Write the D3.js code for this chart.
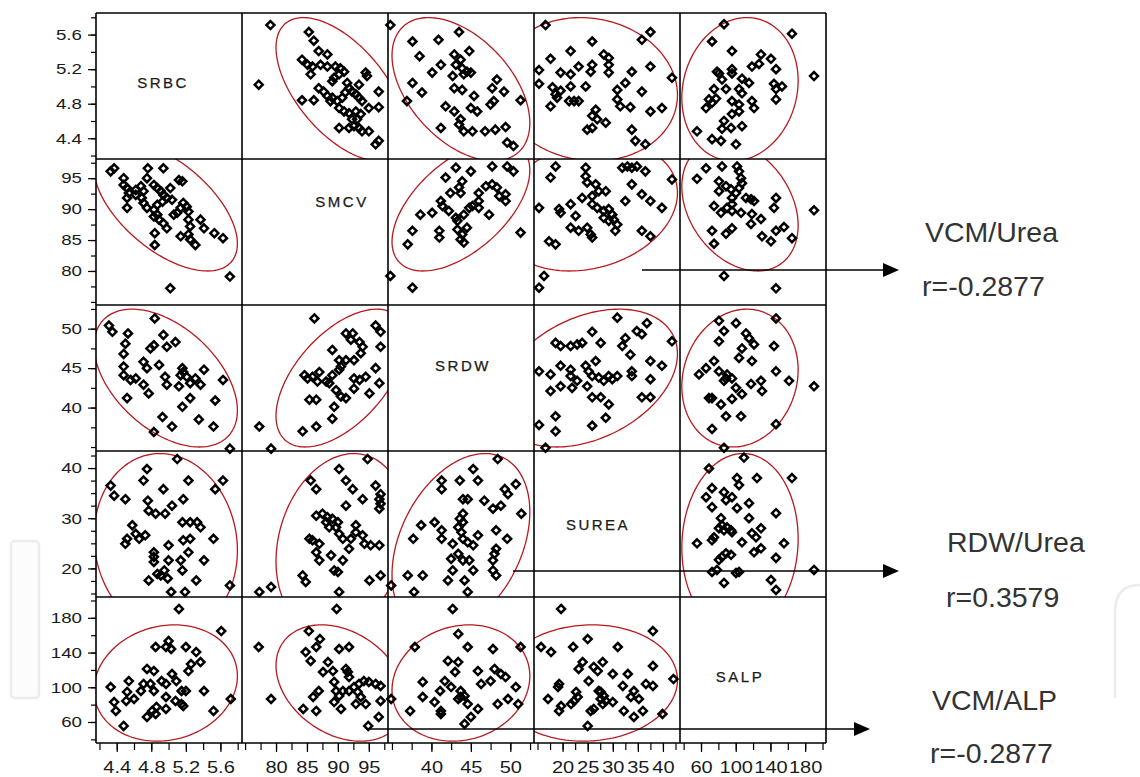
<!DOCTYPE html>
<html><head><meta charset="utf-8">
<script src="https://cdn.jsdelivr.net/npm/d3@7"></script>
<style>body{margin:0;background:#fff}svg{display:block}</style>
</head><body>
<svg id="chart" width="1140" height="777"></svg>
<script>
// ---------- DATA ----------
const variables = ["SRBC","SMCV","SRDW","SUREA","SALP"];
const axisDomains = [[4.16,5.85],[74.5,98.1],[34.5,53.0],[14.3,43.4],[35.8,204]];
const yTickLabels = [[4.4,4.8,5.2,5.6],[80,85,90,95],[40,45,50],[20,30,40],[60,100,140,180]];
const xTickLabels = [[4.4,4.8,5.2,5.6],[80,85,90,95],[40,45,50],[20,25,30,35,40],[60,100,140,180]];
const minorTicks = [
  [4.2,4.4,4.6,4.8,5.0,5.2,5.4,5.6,5.8],
  [75,77.5,80,82.5,85,87.5,90,92.5,95,97.5],
  [35,37.5,40,42.5,45,47.5,50,52.5],
  [15,17.5,20,22.5,25,27.5,30,32.5,35,37.5,40,42.5],
  [40,60,80,100,120,140,160,180,200]
];
const ellipseMean = [4.967, 90.5, 43.74, 25.0, 104.9];
const ellipseSD = [0.339, 4.29, 3.567, 7.31, 27.37];
const ellipseK = 2.4477;
const correlations = [
  [1, -0.58, -0.47, -0.08, 0.12],
  [-0.58, 1, 0.55, 0.20, -0.30],
  [-0.47, 0.55, 1, 0.35, 0.12],
  [-0.08, 0.20, 0.35, 1, 0.05],
  [0.12, -0.30, 0.12, 0.05, 1]
];

// [SMCV, SRBC]
const smcvSrbc = [[79.1,5.71],[77.2,5.02],[85.3,5.63],[86.1,5.53],[86.9,5.41],[88.3,5.37],[84.2,5.31],[85.1,5.25],[85.9,5.23],[87.2,5.25],[88.3,5.23],[89.6,5.23],[90.4,5.21],[91.0,5.17],[90.2,5.14],[89.4,5.10],[85.6,5.14],[89.1,5.06],[91.5,5.04],[91.8,4.98],[93.4,5.02],[94.5,5.16],[94.7,5.12],[96.6,4.94],[86.9,4.98],[87.7,4.94],[88.3,4.89],[89.1,4.87],[88.8,4.83],[89.9,4.83],[90.7,4.87],[91.2,4.93],[92.3,4.94],[92.9,4.91],[93.4,4.87],[93.9,4.83],[84.2,4.84],[86.1,4.84],[90.2,4.75],[91.0,4.71],[91.8,4.69],[92.9,4.71],[93.7,4.68],[95.0,4.75],[96.6,4.76],[92.3,4.62],[93.1,4.62],[92.6,4.54],[93.4,4.52],[93.9,4.48],[95.0,4.48],[90.2,4.52],[91.8,4.52],[96.1,4.33],[96.6,4.37]];
// [SRDW, SRBC]
const srdwSrbc = [[34.8,5.71],[37.6,5.52],[40.9,5.54],[43.5,5.63],[38.5,5.35],[44.8,5.41],[42.9,5.37],[43.7,5.31],[40.1,5.16],[41.2,5.25],[43.1,5.25],[43.9,5.21],[44.5,5.17],[44.1,5.14],[45.0,5.16],[42.7,5.12],[37.6,5.04],[38.8,4.93],[43.9,4.96],[42.9,4.98],[45.4,4.89],[48.3,5.08],[47.7,4.98],[49.2,4.94],[47.5,4.79],[47.9,4.83],[41.8,4.77],[42.9,4.71],[45.0,4.75],[45.8,4.71],[36.9,4.83],[43.7,4.62],[43.5,4.56],[41.2,4.52],[44.1,4.48],[45.2,4.48],[46.8,4.48],[48.1,4.50],[49.4,4.53],[51.3,4.84],[49.6,4.35],[50.4,4.31]];
// [SUREA, SRBC]
const ureaSrbc = [[16.6,5.71],[37.5,5.63],[35.8,5.54],[25.9,5.52],[21.6,5.41],[28.2,5.37],[29.2,5.33],[17.6,5.32],[23.2,5.23],[25.9,5.25],[29.2,5.25],[37.5,5.23],[25.6,5.17],[29.2,5.16],[33.8,5.17],[41.8,5.10],[15.3,5.19],[19.6,5.16],[21.6,5.14],[15.3,5.03],[18.0,4.99],[21.6,5.00],[24.6,5.00],[19.6,4.95],[18.6,4.91],[18.9,4.87],[17.6,4.77],[21.3,4.83],[22.3,4.83],[23.2,4.83],[30.9,4.96],[32.5,5.04],[35.8,4.94],[30.9,4.85],[31.5,4.77],[33.5,4.76],[39.8,4.75],[37.5,4.71],[26.6,4.73],[25.9,4.66],[26.9,4.62],[28.6,4.58],[24.9,4.50],[25.9,4.52],[33.8,4.50],[34.5,4.37],[36.5,4.33]];
// [SALP, SRBC]
const alpSrbc = [[86.5,5.72],[72.7,5.52],[164.8,5.61],[95.7,5.41],[129.1,5.37],[140.6,5.32],[78.4,5.17],[95.7,5.20],[95.7,5.15],[118.7,5.23],[126.8,5.26],[146.4,5.20],[107.2,5.09],[115.3,5.04],[84.2,5.08],[190.2,5.12],[75.0,4.97],[88.8,4.97],[103.8,4.97],[107.2,4.92],[144.1,5.03],[146.4,4.97],[153.3,5.00],[69.2,4.85],[77.3,4.86],[95.7,4.83],[103.8,4.79],[118.7,4.83],[121.1,4.75],[146.4,4.85],[65.8,4.75],[103.8,4.71],[86.5,4.60],[84.2,4.51],[94.6,4.52],[107.2,4.54],[83.0,4.37],[100.3,4.33],[55.4,4.48],[72.7,4.39],[80.7,5.15],[72.7,4.81],[95.7,4.68]];
// [SRDW, SMCV]
const srdwSmcv = [[43.1,96.7],[47.7,96.9],[49.6,96.9],[50.4,96.1],[41.8,95.1],[43.9,94.5],[45.0,96.1],[43.5,93.5],[43.7,92.6],[46.0,92.6],[46.9,93.7],[47.7,94.0],[48.3,93.5],[48.6,92.1],[49.4,92.4],[49.4,91.3],[41.2,91.3],[41.4,90.5],[40.1,89.4],[38.6,89.1],[42.2,89.7],[43.1,88.6],[43.3,88.1],[44.1,89.1],[44.8,90.2],[45.2,90.5],[46.0,90.2],[47.3,89.1],[41.0,86.5],[41.0,85.4],[43.3,86.7],[43.9,85.9],[44.5,87.0],[43.7,85.1],[44.1,84.6],[37.6,86.5],[37.0,84.3],[51.3,86.2],[34.8,79.2],[37.6,77.3],[42.4,92.6],[46.0,91.3]];
// [SUREA, SMCV]
const ureaSmcv = [[18.6,96.9],[17.6,95.1],[15.3,90.2],[19.3,90.0],[19.6,89.4],[21.6,90.8],[22.6,88.9],[24.6,96.7],[24.6,95.3],[24.9,94.3],[26.6,94.0],[27.2,92.9],[28.6,92.9],[25.9,92.1],[23.9,91.8],[25.9,90.8],[26.9,90.2],[28.2,89.7],[29.2,90.0],[29.9,89.1],[28.2,88.6],[29.2,88.1],[30.2,88.3],[30.9,87.5],[31.9,96.7],[32.9,96.9],[33.8,96.7],[34.8,96.9],[36.5,96.1],[33.8,94.0],[35.8,92.4],[37.5,91.3],[32.5,91.3],[39.8,90.2],[41.8,94.8],[21.6,87.0],[23.2,86.5],[24.9,87.0],[25.6,85.9],[25.9,85.4],[30.5,86.5],[35.8,86.5],[37.5,85.6],[17.3,84.8],[18.6,84.3],[16.3,79.2],[15.3,77.3]];
// [SALP, SMCV]
const alpSmcv = [[65.8,96.6],[84.2,96.9],[101.5,96.9],[103.8,96.1],[106.1,95.0],[107.2,94.2],[88.8,93.7],[80.7,92.9],[94.6,93.2],[100.3,92.6],[95.7,91.8],[103.8,93.4],[111.8,91.8],[117.6,91.6],[121.1,91.3],[146.4,91.8],[144.1,90.2],[190.2,89.8],[75.0,90.5],[83.0,89.4],[95.7,90.8],[95.7,89.7],[106.1,89.4],[118.7,89.2],[129.1,88.4],[117.6,87.6],[72.7,86.5],[95.7,86.9],[75.0,84.4],[130.3,85.6],[140.6,84.8],[146.4,86.5],[155.6,87.1],[164.8,85.3],[86.5,79.2],[146.4,77.2],[55.4,94.9],[80.7,94.5],[90.0,90.2],[88.8,86.0]];
// [SUREA, SRDW]
const ureaSrdw = [[30.9,51.4],[36.8,50.7],[34.8,49.7],[35.8,49.3],[25.9,49.6],[27.6,48.2],[18.6,48.2],[19.6,47.8],[21.6,47.8],[22.9,48.0],[23.9,48.2],[32.5,48.8],[31.9,47.8],[33.5,46.7],[41.8,48.4],[15.3,44.6],[17.6,44.2],[19.6,45.3],[21.6,44.8],[21.6,44.0],[22.9,43.4],[24.6,45.3],[25.2,44.6],[26.6,45.9],[25.9,44.0],[27.2,43.8],[28.2,43.4],[29.2,44.0],[29.9,43.6],[30.9,44.0],[24.9,42.7],[19.6,42.7],[21.9,42.5],[17.6,42.1],[33.8,44.6],[33.8,44.0],[37.5,45.9],[37.5,43.6],[39.8,45.3],[25.9,41.3],[27.6,41.3],[29.2,40.4],[35.8,41.3],[37.5,41.3],[18.6,38.9],[15.3,37.8],[18.6,37.0],[25.9,37.7],[28.6,38.7],[16.6,34.9]];
// [SALP, SRDW]
const alpSrdw = [[146.4,51.3],[100.3,50.7],[86.5,49.7],[111.8,49.4],[115.3,48.8],[121.1,48.0],[80.7,48.4],[107.2,47.5],[103.8,46.3],[118.7,45.9],[144.1,47.8],[75.0,45.9],[65.8,45.0],[80.7,44.6],[90.0,44.2],[95.7,43.7],[86.5,43.4],[100.3,42.5],[117.6,43.0],[129.1,43.4],[146.4,44.6],[190.2,42.7],[130.3,42.1],[69.2,41.2],[95.7,41.1],[107.2,41.7],[161.4,43.4],[83.0,40.4],[88.8,38.9],[106.1,38.9],[72.7,37.3],[146.4,37.9],[86.5,34.9],[80.7,51.0],[57.7,44.2],[72.7,41.2],[88.8,43.7]];
// [SALP, SUREA]
const alpUrea = [[109.5,42.1],[69.2,39.9],[101.5,38.0],[124.5,38.0],[164.8,38.0],[72.7,36.0],[86.5,35.2],[95.7,34.2],[103.8,36.6],[65.8,34.2],[115.3,33.0],[101.5,32.0],[115.3,30.0],[146.4,31.0],[83.0,30.0],[84.2,28.6],[80.7,28.0],[86.5,27.6],[90.0,28.2],[94.6,27.6],[95.7,27.2],[75.0,26.2],[72.7,25.6],[129.1,28.0],[118.7,27.0],[123.4,26.2],[107.2,25.2],[155.6,25.0],[55.4,25.0],[129.1,24.0],[121.1,23.2],[84.2,22.3],[94.6,22.7],[80.7,21.7],[146.4,22.1],[72.7,19.3],[78.4,19.7],[100.3,19.1],[103.8,19.3],[86.5,17.1],[140.6,17.7],[146.4,15.7],[190.2,19.7],[88.8,33.6],[72.7,32.2],[88.8,23.0]];

const pairs = [
  {a:"SMCV", b:"SRBC", values:smcvSrbc},
  {a:"SRDW", b:"SRBC", values:srdwSrbc},
  {a:"SUREA", b:"SRBC", values:ureaSrbc},
  {a:"SALP", b:"SRBC", values:alpSrbc},
  {a:"SRDW", b:"SMCV", values:srdwSmcv},
  {a:"SUREA", b:"SMCV", values:ureaSmcv},
  {a:"SALP", b:"SMCV", values:alpSmcv},
  {a:"SUREA", b:"SRDW", values:ureaSrdw},
  {a:"SALP", b:"SRDW", values:alpSrdw},
  {a:"SALP", b:"SUREA", values:alpUrea}
];

const annotationNames = ["VCM/Urea","RDW/Urea","VCM/ALP"];
const annotationR = ["r=-0.2877","r=0.3579","r=-0.2877"];

// ---------- LAYOUT ----------
const svg = d3.select("#chart");
const gridLeft = 96, gridTop = 13, cw = 146, ch = 146, nVars = variables.length;
const font = "'Liberation Sans', Arial, sans-serif";

const xScales = axisDomains.map((d,i)=>d3.scaleLinear().domain(d).range([gridLeft+i*cw, gridLeft+(i+1)*cw]));
const yScales = axisDomains.map((d,i)=>d3.scaleLinear().domain(d).range([gridTop+(i+1)*ch, gridTop+i*ch]));

// watermark (faint)
svg.append("rect").attr("x",11).attr("y",541).attr("width",28).attr("height",157).attr("rx",4)
  .attr("fill","#fcfcfc").attr("stroke","#ececec").attr("stroke-width",2.5);
svg.append("path").attr("d","M1115,698 L1115,612 Q1115,585 1140,585")
  .attr("fill","none").attr("stroke","#ececec").attr("stroke-width",2.5);

const defs = svg.append("defs");
const diamond = "M0,-4L4,0L0,4L-4,0Z";

for (let i=0;i<nVars;i++){
  for (let j=0;j<nVars;j++){
    if (i===j) continue;
    const xv = variables[j], yv = variables[i];
    const p = pairs.find(q => (q.a===xv && q.b===yv) || (q.a===yv && q.b===xv));
    const swap = p.a !== xv;
    const pts = p.values.map(v => swap ? [v[1],v[0]] : [v[0],v[1]]);
    const xs = xScales[j], ys = yScales[i];
    const id = `clip${i}${j}`;
    defs.append("clipPath").attr("id",id).append("rect")
      .attr("x",gridLeft+j*cw).attr("y",gridTop+i*ch).attr("width",cw).attr("height",ch);
    const rho = correlations[i][j];
    const ts = d3.range(0, 2*Math.PI, Math.PI/90);
    const ell = ts.map(t => [
      ellipseMean[j] + ellipseK*ellipseSD[j]*Math.cos(t),
      ellipseMean[i] + ellipseK*ellipseSD[i]*(rho*Math.cos(t) + Math.sqrt(1-rho*rho)*Math.sin(t))
    ]);
    svg.append("path").datum(ell)
      .attr("clip-path",`url(#${id})`)
      .attr("d", d3.line().x(d=>xs(d[0])).y(d=>ys(d[1])).curve(d3.curveLinearClosed))
      .attr("fill","none").attr("stroke","#b8181e").attr("stroke-width",1.3);
    svg.append("g").selectAll("path").data(pts).join("path")
      .attr("d",diamond)
      .attr("transform",d=>`translate(${xs(d[0])},${ys(d[1])})`)
      .attr("fill","none").attr("stroke","#000").attr("stroke-width",2.5);
  }
}

// frame
const frame = svg.append("g").attr("stroke","#000").attr("stroke-width",1.6);
for (let k=0;k<=nVars;k++){
  frame.append("line").attr("x1",gridLeft+k*cw).attr("x2",gridLeft+k*cw).attr("y1",gridTop).attr("y2",gridTop+nVars*ch);
  frame.append("line").attr("y1",gridTop+k*ch).attr("y2",gridTop+k*ch).attr("x1",gridLeft).attr("x2",gridLeft+nVars*cw);
}

// diagonal labels
const diagPos = [[163,82],[342,201],[463,365],[598,524],[740,676]];
variables.forEach((v,i)=>{
  svg.append("text").attr("x",diagPos[i][0]).attr("y",diagPos[i][1])
    .attr("text-anchor","middle").attr("dominant-baseline","central")
    .attr("font-family",font).attr("font-size",15).attr("letter-spacing","2.5px")
    .attr("fill","#1a1a1a").attr("stroke","#1a1a1a").attr("stroke-width",0.25).text(v);
});

// axes
for (let i=0;i<nVars;i++){
  const gy = svg.append("g").attr("transform",`translate(${gridLeft},0)`);
  gy.append("g").call(d3.axisLeft(yScales[i]).tickValues(minorTicks[i]).tickSize(5).tickFormat(""));
  const maj = gy.append("g").call(d3.axisLeft(yScales[i]).tickValues(yTickLabels[i]).tickSize(8).tickFormat(d3.format("")));
  gy.selectAll(".domain").remove();
  gy.selectAll("line").attr("stroke","#000").attr("stroke-width",1.2);
  maj.selectAll("text").attr("font-family",font).attr("font-size",15).attr("fill","#1a1a1a")
    .attr("x",-14/1.25).attr("transform","scale(1.25,1)");

  const gx = svg.append("g").attr("transform",`translate(0,${gridTop+nVars*ch})`);
  gx.append("g").call(d3.axisBottom(xScales[i]).tickValues(minorTicks[i]).tickSize(7).tickFormat(""));
  const majx = gx.append("g").call(d3.axisBottom(xScales[i]).tickValues(xTickLabels[i]).tickSize(9).tickFormat(d3.format("")));
  gx.selectAll(".domain").remove();
  gx.selectAll("line").attr("stroke","#000").attr("stroke-width",1.2);
  majx.selectAll("text").attr("font-family",font).attr("font-size",16).attr("fill","#1a1a1a")
    .attr("y",30).attr("dy",0).attr("transform","scale(1.25,1)");
}

// annotation arrows
const arrowSpecs = [[642,899,270],[513,899,571],[368,870,729]];
arrowSpecs.forEach(a=>{
  svg.append("line").attr("x1",a[0]).attr("x2",a[1]-14).attr("y1",a[2]).attr("y2",a[2])
    .attr("stroke","#000").attr("stroke-width",1.6);
  svg.append("path").attr("d",`M${a[1]},${a[2]} L${a[1]-16},${a[2]-7} L${a[1]-16},${a[2]+7} Z`).attr("fill","#000");
});
const annPos = [[925,242,922,296],[947,552,946,607],[932,710,930,763]];
annotationNames.forEach((t,k)=>{
  svg.append("text").attr("x",annPos[k][0]).attr("y",annPos[k][1]).attr("font-family",font)
    .attr("font-size",28.5).attr("fill","#333").text(t);
  svg.append("text").attr("x",annPos[k][2]).attr("y",annPos[k][3]).attr("font-family",font)
    .attr("font-size",28.5).attr("fill","#333").text(annotationR[k]);
});
</script>
</body></html>
